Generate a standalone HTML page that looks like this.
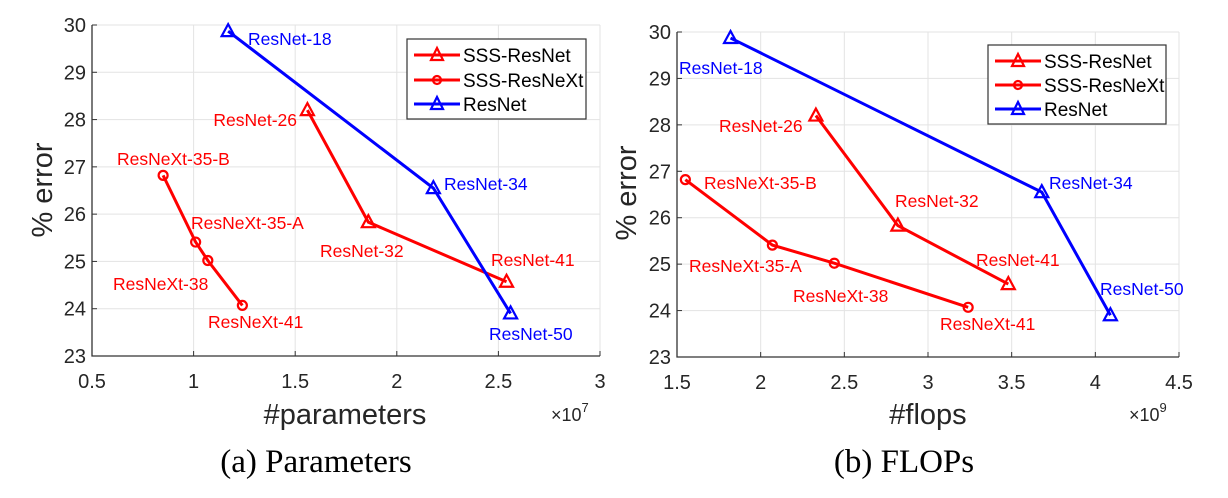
<!DOCTYPE html>
<html><head><meta charset="utf-8"><style>
html,body{margin:0;padding:0;background:#fff;}
svg{display:block;font-family:"Liberation Sans",sans-serif;}
</style></head><body>
<svg id="chart" width="1228" height="498" viewBox="0 0 1228 498" xmlns="http://www.w3.org/2000/svg">
</svg>
<script>
// ---- data ----
const paramResNetX = [1.17, 2.18, 2.56];
const paramResNetY = [29.87, 26.55, 23.9];
const paramSSSResNetX = [1.56, 1.86, 2.54];
const paramSSSResNetY = [28.2, 25.83, 24.57];
const paramSSSResNeXtX = [0.85, 1.01, 1.07, 1.24];
const paramSSSResNeXtY = [26.82, 25.41, 25.02, 24.07];
const flopResNetX = [1.82, 3.68, 4.09];
const flopResNetY = [29.87, 26.55, 23.9];
const flopSSSResNetX = [2.33, 2.82, 3.48];
const flopSSSResNetY = [28.2, 25.83, 24.57];
const flopSSSResNeXtX = [1.55, 2.07, 2.44, 3.24];
const flopSSSResNeXtY = [26.82, 25.41, 25.02, 24.07];
const paramXTicks = ["0.5","1","1.5","2","2.5","3"];
const flopXTicks = ["1.5","2","2.5","3","3.5","4","4.5"];
const yTicks = ["23","24","25","26","27","28","29","30"];

const NS="http://www.w3.org/2000/svg";
const svg=document.getElementById('chart');
function mk(tag,attrs,parent){const e=document.createElementNS(NS,tag);for(const k in attrs)e.setAttribute(k,attrs[k]);(parent||svg).appendChild(e);return e;}

function panel(cfg){
  const g=mk('g',{});
  
  
  const xs=v=>cfg.x0+(v-cfg.xmin)/(cfg.xmax-cfg.xmin)*(cfg.x1-cfg.x0);
  const ys=v=>cfg.y1-(v-23)/(30-23)*(cfg.y1-cfg.y0);
  cfg.xt.forEach(t=>{const x=xs(parseFloat(t));
    const l=mk('line',{x1:x,x2:x,y1:cfg.y0,y2:cfg.y1,stroke:'#e3e3e3','stroke-width':1},g);
    
    mk('line',{x1:x,x2:x,y1:cfg.y1,y2:cfg.y1-5,stroke:'#333','stroke-width':1},g);
    const tx=mk('text',{x:x,y:cfg.y1+32,'text-anchor':'middle','font-size':20,fill:'#262626'},g);
    tx.textContent=t;
  });
  yTicks.forEach(t=>{const y=ys(parseFloat(t));
    const l=mk('line',{x1:cfg.x0,x2:cfg.x1,y1:y,y2:y,stroke:'#e3e3e3','stroke-width':1},g);
    
    mk('line',{x1:cfg.x0,x2:cfg.x0+5,y1:y,y2:y,stroke:'#333','stroke-width':1},g);
    const tx=mk('text',{x:cfg.x0-6,y:y+7,'text-anchor':'end','font-size':20,fill:'#262626'},g);
    tx.textContent=t;
  });
  const ax=mk('path',{d:`M${cfg.x0},${cfg.y0}V${cfg.y1}H${cfg.x1}`,fill:'none',stroke:'#333','stroke-width':1.3},g);
  
  mk('line',{x1:cfg.x1,x2:cfg.x1,y1:cfg.y1,y2:cfg.y1-5,stroke:'#333'},g);
  cfg.series.forEach(s=>{
    const pts=s.x.map((v,i)=>xs(v)+','+ys(s.y[i])).join(' ');
    const pl=mk('polyline',{points:pts,fill:'none',stroke:s.c,'stroke-width':3},g);
    
    s.x.forEach((v,i)=>{const cx=xs(v),cy=ys(s.y[i]);let m;
      if(s.m==='tri') m=mk('polygon',{points:`${cx},${cy-7} ${cx-6.5},${cy+5} ${cx+6.5},${cy+5}`,fill:'none',stroke:s.c,'stroke-width':2.2},g);
      else m=mk('circle',{cx:cx,cy:cy,r:4.5,fill:'none',stroke:s.c,'stroke-width':2.2},g);
      
    });
  });
  return g;
}
const R='#ff0000',B='#0000ff';
panel({name:'parameters-chart',x0:92,x1:600,y0:25,y1:356,xmin:0.5,xmax:3,xt:paramXTicks,series:[
 {name:'sss-resnext',x:paramSSSResNeXtX,y:paramSSSResNeXtY,c:R,m:'circ'},
 {name:'sss-resnet',x:paramSSSResNetX,y:paramSSSResNetY,c:R,m:'tri'},
 {name:'resnet',x:paramResNetX,y:paramResNetY,c:B,m:'tri'}]});
panel({name:'flops-chart',x0:677,x1:1179,y0:32,y1:357,xmin:1.5,xmax:4.5,xt:flopXTicks,series:[
 {name:'sss-resnext',x:flopSSSResNeXtX,y:flopSSSResNeXtY,c:R,m:'circ'},
 {name:'sss-resnet',x:flopSSSResNetX,y:flopSSSResNetY,c:R,m:'tri'},
 {name:'resnet',x:flopResNetX,y:flopResNetY,c:B,m:'tri'}]});
</script>
<svg style="position:absolute;left:0;top:0" width="1228" height="498" font-family="Liberation Sans, sans-serif">
 <g font-size="17.5" fill="#ff0000">
  <text x="248" y="45" fill="#0000ff">ResNet-18</text>
  <text x="297" y="126" text-anchor="end">ResNet-26</text>
  <text x="117" y="165">ResNeXt-35-B</text>
  <text x="191" y="229">ResNeXt-35-A</text>
  <text x="444" y="190" fill="#0000ff">ResNet-34</text>
  <text x="320" y="257">ResNet-32</text>
  <text x="491" y="266">ResNet-41</text>
  <text x="113" y="290">ResNeXt-38</text>
  <text x="208" y="328">ResNeXt-41</text>
  <text x="489" y="340" fill="#0000ff">ResNet-50</text>
  <text x="679" y="74" fill="#0000ff">ResNet-18</text>
  <text x="719" y="132">ResNet-26</text>
  <text x="704" y="189">ResNeXt-35-B</text>
  <text x="895" y="207">ResNet-32</text>
  <text x="1049" y="189" fill="#0000ff">ResNet-34</text>
  <text x="976" y="266">ResNet-41</text>
  <text x="689" y="272">ResNeXt-35-A</text>
  <text x="793" y="302">ResNeXt-38</text>
  <text x="940" y="330">ResNeXt-41</text>
  <text x="1100" y="295" fill="#0000ff">ResNet-50</text>
 </g>
 <g>
  <rect x="407" y="39" width="179" height="80" fill="#fff" stroke="#333" stroke-width="1.2"/>
  <line x1="414" x2="460" y1="55" y2="55" stroke="#f00" stroke-width="3"/><polygon points="437,48 431,60 443,60" fill="none" stroke="#f00" stroke-width="2.2"/>
  <text x="463" y="62" font-size="19" fill="#000">SSS-ResNet</text>
  <line x1="414" x2="460" y1="80" y2="80" stroke="#f00" stroke-width="3"/><circle cx="437" cy="80" r="4" fill="none" stroke="#f00" stroke-width="2.2"/>
  <text x="463" y="87" font-size="19" fill="#000">SSS-ResNeXt</text>
  <line x1="414" x2="460" y1="104" y2="104" stroke="#00f" stroke-width="3"/><polygon points="437,97 431,109 443,109" fill="none" stroke="#00f" stroke-width="2.2"/>
  <text x="463" y="111" font-size="19" fill="#000">ResNet</text>
 </g>
 <g>
  <rect x="988" y="45" width="178" height="79" fill="#fff" stroke="#333" stroke-width="1.2"/>
  <line x1="995" x2="1041" y1="61" y2="61" stroke="#f00" stroke-width="3"/><polygon points="1018,54 1012,66 1024,66" fill="none" stroke="#f00" stroke-width="2.2"/>
  <text x="1044" y="68" font-size="19" fill="#000">SSS-ResNet</text>
  <line x1="995" x2="1041" y1="85" y2="85" stroke="#f00" stroke-width="3"/><circle cx="1018" cy="85" r="4" fill="none" stroke="#f00" stroke-width="2.2"/>
  <text x="1044" y="92" font-size="19" fill="#000">SSS-ResNeXt</text>
  <line x1="995" x2="1041" y1="109" y2="109" stroke="#00f" stroke-width="3"/><polygon points="1018,102 1012,114 1024,114" fill="none" stroke="#00f" stroke-width="2.2"/>
  <text x="1044" y="116" font-size="19" fill="#000">ResNet</text>
 </g>
 <g fill="#262626">
  <text x="345" y="424" text-anchor="middle" font-size="29">#parameters</text>
  <text x="551" y="421" font-size="18">×10<tspan dy="-9" font-size="13">7</tspan></text>
  <text transform="translate(52,190) rotate(-90)" text-anchor="middle" font-size="29">% error</text>
  <text x="928" y="424" text-anchor="middle" font-size="29">#flops</text>
  <text x="1129" y="421" font-size="18">×10<tspan dy="-9" font-size="13">9</tspan></text>
  <text transform="translate(636,193) rotate(-90)" text-anchor="middle" font-size="29">% error</text>
 </g>
 <g font-family="Liberation Serif, serif" font-size="33" fill="#000">
  <text x="316" y="472" text-anchor="middle">(a)  Parameters</text>
  <text x="904" y="472" text-anchor="middle">(b)  FLOPs</text>
 </g>
</svg>
</body></html>
